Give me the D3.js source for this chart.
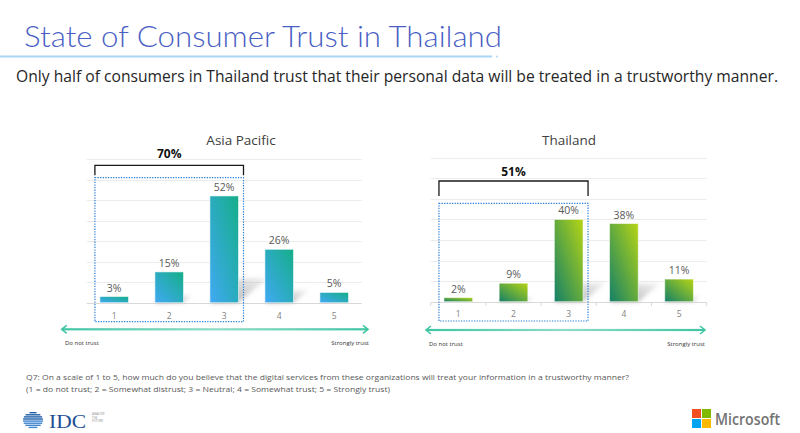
<!DOCTYPE html>
<html>
<head>
<meta charset="utf-8">
<script src="https://cdn.jsdelivr.net/npm/d3@7"></script>
<style>
  html, body { margin: 0; padding: 0; background: #fff; }
  svg { display: block; }
  text { font-family: "Open Sans", "Noto Sans", sans-serif; }
</style>
</head>
<body>
<svg id="chart" width="800" height="433"></svg>
<script>
// ---------------- data ----------------
const categories = ["1", "2", "3", "4", "5"];
const asiaPacificValues = [3, 15, 52, 26, 5];
const thailandValues = [2, 9, 40, 38, 11];
const gridTicks = [0, 10, 20, 30, 40, 50, 60, 70];
const panelTitles = ["Asia Pacific", "Thailand"];
const trustTotals = [70, 51];              // combined share of answers 1-3
const bracketCategories = ["1", "2", "3"];
const scaleEndLabels = ["Do not trust", "Strongly trust"];
const titleText = "State of Consumer Trust in Thailand";
const subtitleText = "Only half of consumers in Thailand trust that their personal data will be treated in a trustworthy manner.";
const footnoteLines = [
  "Q7: On a scale of 1 to 5, how much do you believe that the digital services from these organizations will treat your information in a trustworthy manner?",
  "(1 = do not trust; 2 = Somewhat distrust; 3 = Neutral; 4 = Somewhat trust; 5 = Strongly trust)"
];

// ---------------- layout ----------------
const panels = [
  { title: panelTitles[0], values: asiaPacificValues, total: trustTotals[0],
    x0: 86.7, x1: 361.7, yBase: 302.7, yTop: 159, titleX: 241, titleY: 145,
    grad: ["#40a9f4", "#15ae88"], gid: "gAP",
    boxTop: 177.7, boxBottom: 321.7, bracketY: 165.3, bracketDrop: 10, bracketLabelY: 157.5,
    tickY: 318.5, arrowY: 329.3, arrowX0: 61.7, arrowX1: 368, endY: 344.5, endX0: 65, endX1: 369,
    axisTicks: false },
  { title: panelTitles[1], values: thailandValues, total: trustTotals[1],
    x0: 430.7, x1: 706.7, yBase: 301.7, yTop: 157.7, titleX: 569, titleY: 145,
    grad: ["#138068", "#b6d514"], gid: "gTH",
    boxTop: 203.3, boxBottom: 321, bracketY: 181, bracketDrop: 15, bracketLabelY: 176,
    tickY: 316.5, arrowY: 330, arrowX0: 426, arrowX1: 705, endY: 346, endX0: 429, endX1: 705,
    axisTicks: true }
];

const svg = d3.select("#chart");
const defs = svg.append("defs");

// shadow blur
const f = defs.append("filter").attr("id", "blur").attr("x", "-50%").attr("y", "-50%").attr("width", "200%").attr("height", "200%");
f.append("feGaussianBlur").attr("stdDeviation", 2.2);

// shadow gradient
const sg = defs.append("linearGradient").attr("id", "shadowGrad").attr("x1", 0).attr("y1", 1).attr("x2", 1).attr("y2", 0);
sg.append("stop").attr("offset", "0%").attr("stop-color", "#8a8a8a").attr("stop-opacity", 0.75);
sg.append("stop").attr("offset", "100%").attr("stop-color", "#bdbdbd").attr("stop-opacity", 0.25);

// arrow gradient (bounding box of a rect, so it renders)
const ag = defs.append("linearGradient").attr("id", "arrowGrad").attr("x1", 0).attr("y1", 0).attr("x2", 1).attr("y2", 0);
ag.append("stop").attr("offset", "0%").attr("stop-color", "#3fc5a3");
ag.append("stop").attr("offset", "50%").attr("stop-color", "#8fdcc8");
ag.append("stop").attr("offset", "100%").attr("stop-color", "#3fc5a3");

panels.forEach(p => {
  const g = defs.append("linearGradient").attr("id", p.gid)
    .attr("x1", 0).attr("y1", 1).attr("x2", 1).attr("y2", 0);
  g.append("stop").attr("offset", "0%").attr("stop-color", p.grad[0]);
  g.append("stop").attr("offset", "100%").attr("stop-color", p.grad[1]);
});

// ---------------- header ----------------
svg.append("text")
  .attr("x", 24).attr("y", 47)
  .attr("font-size", 29).attr("font-weight", 300)
  .attr("fill", "#4a5fc4")
  .style("font-family", "Lato, 'Open Sans', sans-serif")
  .attr("textLength", 478).attr("lengthAdjust", "spacingAndGlyphs")
  .text(titleText);

svg.append("line").attr("x1", 0).attr("x2", 492).attr("y1", 56.5).attr("y2", 56.5)
  .attr("stroke", "#a9d5f7").attr("stroke-width", 2);
svg.append("circle").attr("cx", 497).attr("cy", 56.5).attr("r", 1).attr("fill", "#a9d5f7");

svg.append("text")
  .attr("x", 16).attr("y", 82)
  .attr("font-size", 15.5).attr("fill", "#262626")
  .attr("textLength", 762).attr("lengthAdjust", "spacingAndGlyphs")
  .text(subtitleText);

// ---------------- panels ----------------
panels.forEach(p => {
  const x = d3.scaleBand().domain(categories).range([p.x0, p.x1])
    .paddingInner(0.48).paddingOuter(0.24);
  const y = d3.scaleLinear().domain([0, d3.max(gridTicks)]).range([p.yBase, p.yTop]);
  const data = categories.map((c, i) => ({ c, v: p.values[i] }));
  const g = svg.append("g");

  // title
  g.append("text").attr("x", p.titleX).attr("y", p.titleY)
    .attr("text-anchor", "middle").attr("font-size", 13.5).attr("fill", "#404040")
    .text(p.title);

  // gridlines
  g.selectAll("line.grid").data(gridTicks).join("line")
    .attr("x1", p.x0).attr("x2", p.x1)
    .attr("y1", d => Math.round(y(d)) + 0.5).attr("y2", d => Math.round(y(d)) + 0.5)
    .attr("stroke", d => d === 0 ? "#d9d9d9" : "#ececec").attr("stroke-width", 1);

  if (p.axisTicks) {
    const bounds = d3.range(categories.length + 1).map(i => p.x0 + i * x.step());
    g.selectAll("line.tk").data(bounds).join("line")
      .attr("x1", d => d).attr("x2", d => d)
      .attr("y1", Math.round(y(0)) + 0.5).attr("y2", Math.round(y(0)) + 4)
      .attr("stroke", "#d9d9d9");
  }

  // shadows
  g.selectAll("polygon.shadow").data(data.filter(d => d.v >= 5)).join("polygon")
    .attr("points", d => {
      const xl = x(d.c), xr = x(d.c) + x.bandwidth();
      const h = y(0) - y(d.v);
      const dx = 0.27 * h, dy = 0.23 * h, b = y(0);
      return [[xl, b], [xr, b], [xr + dx, b - dy], [xl + dx, b - dy]].map(q => q.join(",")).join(" ");
    })
    .attr("fill", "url(#shadowGrad)").attr("filter", "url(#blur)");

  // bars
  g.selectAll("rect.bar").data(data).join("rect")
    .attr("x", d => x(d.c)).attr("width", x.bandwidth())
    .attr("y", d => y(d.v)).attr("height", d => y(0) - y(d.v))
    .attr("fill", `url(#${p.gid})`)
    .attr("stroke", "#ffffff").attr("stroke-opacity", 0.55).attr("stroke-width", 1);

  // value labels
  g.selectAll("text.val").data(data).join("text")
    .attr("x", d => x(d.c) + x.bandwidth() / 2).attr("y", d => y(d.v) - 5)
    .attr("text-anchor", "middle").attr("font-size", 10.5).attr("fill", "#595959")
    .text(d => d.v + "%");

  // category tick labels
  g.selectAll("text.cat").data(categories).join("text")
    .attr("x", d => x(d) + x.bandwidth() / 2).attr("y", p.tickY)
    .attr("text-anchor", "middle").attr("font-size", 8.5).attr("fill", "#7f7f7f")
    .text(d => d);

  // dotted box & bracket around 1-3
  const bx0 = x(bracketCategories[0]) - 5;
  const bx1 = x(bracketCategories[bracketCategories.length - 1]) + x.bandwidth() + 5;
  g.append("rect").attr("x", bx0).attr("y", p.boxTop)
    .attr("width", bx1 - bx0).attr("height", p.boxBottom - p.boxTop)
    .attr("fill", "none").attr("stroke", "#2b7fd6").attr("stroke-width", 1.2)
    .attr("stroke-dasharray", "1.3,1.3");

  g.append("path")
    .attr("d", `M${bx0},${p.bracketY + p.bracketDrop}V${p.bracketY}H${bx1}V${p.bracketY + p.bracketDrop}`)
    .attr("fill", "none").attr("stroke", "#1a1a1a").attr("stroke-width", 1.3);
  g.append("text").attr("x", (bx0 + bx1) / 2).attr("y", p.bracketLabelY)
    .attr("text-anchor", "middle").attr("font-size", 12).attr("font-weight", 700).attr("fill", "#111")
    .text(p.total + "%");

  // scale arrow
  const ay = p.arrowY;
  g.append("rect").attr("x", p.arrowX0 + 0.5).attr("width", p.arrowX1 - p.arrowX0 - 1)
    .attr("y", ay - 1.1).attr("height", 2.2)
    .attr("fill", "url(#arrowGrad)");
  g.append("path").attr("d", `M${p.arrowX0 + 5},${ay - 4}L${p.arrowX0},${ay}L${p.arrowX0 + 5},${ay + 4}`)
    .attr("fill", "none").attr("stroke", "#3fc5a3").attr("stroke-width", 1.6);
  g.append("path").attr("d", `M${p.arrowX1 - 5},${ay - 4}L${p.arrowX1},${ay}L${p.arrowX1 - 5},${ay + 4}`)
    .attr("fill", "none").attr("stroke", "#3fc5a3").attr("stroke-width", 1.6);

  g.append("text").attr("x", p.endX0).attr("y", p.endY)
    .attr("font-size", 6).attr("fill", "#333").text(scaleEndLabels[0]);
  g.append("text").attr("x", p.endX1).attr("y", p.endY).attr("text-anchor", "end")
    .attr("font-size", 6).attr("fill", "#333").text(scaleEndLabels[1]);
});

// ---------------- footnote ----------------
svg.append("text").attr("x", 26).attr("y", 380).attr("font-size", 7.6).attr("fill", "#595959")
  .attr("textLength", 603).attr("lengthAdjust", "spacingAndGlyphs").text(footnoteLines[0]);
svg.append("text").attr("x", 26).attr("y", 392).attr("font-size", 7.6).attr("fill", "#595959")
  .attr("textLength", 364).attr("lengthAdjust", "spacingAndGlyphs").text(footnoteLines[1]);

// ---------------- logos ----------------
// IDC
const idc = svg.append("g");
const stripeYs = d3.range(0, 8).map(i => 412 + i * 2.1);
idc.selectAll("rect.st").data(stripeYs).join("rect")
  .attr("x", d => 33 - Math.sqrt(Math.max(0, 64 - Math.pow(d + 1 - 420.5, 2))) * 1.25)
  .attr("width", d => 2 * Math.sqrt(Math.max(0, 64 - Math.pow(d + 1 - 420.5, 2))) * 1.25)
  .attr("y", d => d).attr("height", 1.4)
  .attr("fill", (d, i) => i < 4 ? "#1f5ea8" : "#3f86cf");
idc.append("text").attr("x", 49).attr("y", 427.5).attr("font-size", 19)
  .style("font-family", "'Liberation Serif', 'DejaVu Serif', serif").attr("fill", "#1c4e92")
  .attr("textLength", 37).attr("lengthAdjust", "spacingAndGlyphs").text("IDC");
["ANALYZE", "THE", "FUTURE"].forEach((t, i) => {
  idc.append("text").attr("x", 92).attr("y", 415 + i * 3.6).attr("font-size", 3)
    .attr("fill", "#8a8a8a").text(t);
});

// Microsoft
const ms = svg.append("g");
const msColors = ["#f25022", "#7fba00", "#00a4ef", "#ffb900"];
ms.selectAll("rect").data(msColors).join("rect")
  .attr("x", (d, i) => 692 + (i % 2) * 10).attr("y", (d, i) => 409 + Math.floor(i / 2) * 10)
  .attr("width", 9).attr("height", 9).attr("fill", d => d);
ms.append("text").attr("x", 715).attr("y", 424.5).attr("font-size", 17).attr("font-weight", 600)
  .attr("fill", "#737373").attr("textLength", 65).attr("lengthAdjust", "spacingAndGlyphs").text("Microsoft");
</script>
</body>
</html>
